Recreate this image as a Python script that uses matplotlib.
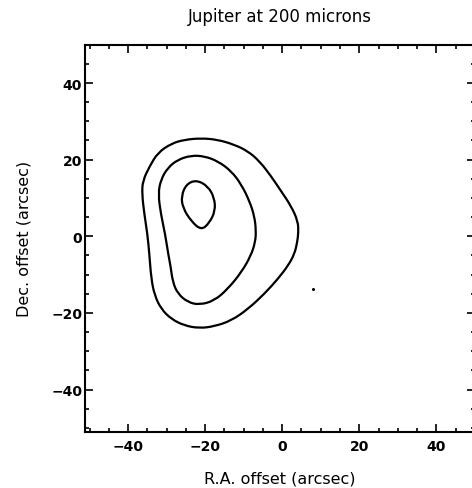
import numpy as np
import matplotlib
matplotlib.use("Agg")
import matplotlib.pyplot as plt
from matplotlib.path import Path
from matplotlib.patches import PathPatch
from matplotlib.ticker import MultipleLocator

# contour outlines (arcsec), clockwise from the top
outer_ra = [-21.0, -16.7, -12.4, -8.9, -5.9, -2.9, -0.3, 2.3, 4.1, 4.2, 3.9, 3.2, 1.5,
            -1.1, -4.6, -8.9, -13.2, -17.6, -21.5, -25.4, -28.8, -31.4, -33.1, -34.0,
            -34.5, -35.0, -35.8, -36.4, -36.2, -34.4, -32.3, -28.8, -25.4]
outer_dec = [25.6, 25.2, 23.9, 22.2, 19.6, 15.7, 11.8, 7.9, 3.9, 0.9, -1.5, -4.6, -7.7,
             -11.1, -15.0, -19.0, -22.0, -23.5, -24.0, -23.3, -21.6, -19.0, -15.5, -11.1,
             -4.6, 0.6, 5.8, 11.1, 14.5, 18.3, 21.8, 24.2, 25.2]

middle_ra = [-23.6, -20.2, -16.7, -13.2, -10.6, -8.5, -7.2, -6.8, -7.0, -8.1, -10.6,
             -14.1, -17.6, -21.5, -24.5, -27.1, -28.4, -29.0, -29.6, -30.4, -31.5,
             -32.2, -31.5, -29.7, -27.1]
middle_dec = [21.1, 20.9, 19.6, 17.0, 13.5, 9.2, 5.2, 1.4, -1.5, -5.0, -9.4,
              -13.7, -16.8, -17.9, -17.2, -15.0, -12.0, -7.7, -4.6, 0.6, 5.8,
              11.1, 14.8, 17.9, 20.0]

inner_ra = [-22.3, -19.3, -17.6, -17.4, -18.9, -21.0, -23.6, -25.8, -26.2, -24.9]
inner_dec = [14.7, 13.1, 10.0, 6.6, 3.5, 1.6, 3.9, 7.4, 10.5, 13.6]

# stray speck in the scanned figure
speck_ra = [8.0]
speck_dec = [-13.7]


def closed_smooth_path(xs, ys):
    """Closed quadratic-Bezier path through the midpoints of the outline."""
    pts = np.column_stack([xs, ys])
    n = len(pts)
    mids = (pts + np.roll(pts, -1, axis=0)) / 2
    verts = [mids[-1]]
    codes = [Path.MOVETO]
    for i in range(n):
        verts += [pts[i], mids[i]]
        codes += [Path.CURVE3, Path.CURVE3]
    return Path(verts, codes)


plt.rcParams['font.family'] = ['DejaVu Sans']

fig = plt.figure(figsize=(4.72, 4.89), dpi=100)
ax = fig.add_axes([85 / 472, 56.3 / 489, 389.8 / 472, 387 / 489])

for ra, dec in [(outer_ra, outer_dec), (middle_ra, middle_dec), (inner_ra, inner_dec)]:
    ax.add_patch(PathPatch(closed_smooth_path(ra, dec), fill=False,
                           edgecolor='black', lw=1.6))
ax.plot(speck_ra, speck_dec, 'o', color='black', ms=1.2)

ax.set_xlim(-51.2, 50)
ax.set_ylim(-51, 50)
ax.xaxis.set_major_locator(MultipleLocator(20))
ax.yaxis.set_major_locator(MultipleLocator(20))
ax.xaxis.set_minor_locator(MultipleLocator(5))
ax.yaxis.set_minor_locator(MultipleLocator(5))
ax.tick_params(which='both', direction='in', top=True, right=True, width=1.2)
ax.tick_params(which='major', length=6)
ax.tick_params(which='minor', length=3)
ax.tick_params(axis='x', labelsize=10, pad=5)
ax.tick_params(axis='y', labelsize=10, pad=2)
for lab in ax.get_xticklabels() + ax.get_yticklabels():
    lab.set_fontweight('bold')
for sp in ax.spines.values():
    sp.set_linewidth(1.5)

ax.set_title('Jupiter at 200 microns', fontsize=12, pad=17)
ax.set_xlabel('R.A. offset (arcsec)', fontsize=11.5, labelpad=13)
ax.set_ylabel('Dec. offset (arcsec)', fontsize=11.5, labelpad=14)

fig.savefig('out.png', dpi=100)
